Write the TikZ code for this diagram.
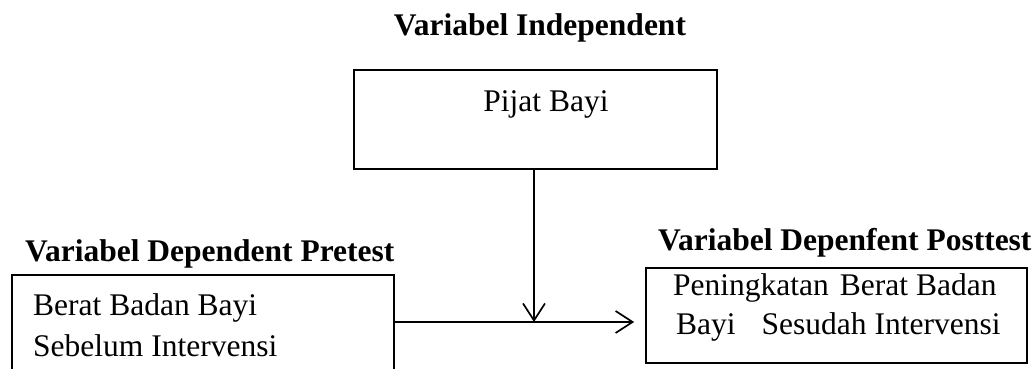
\documentclass[tikz,border=0pt]{standalone}
\usepackage{fontspec}
\setmainfont{Liberation Serif}
\usetikzlibrary{arrows.meta}
\begin{document}
\begin{tikzpicture}[x=1pt,y=1pt,
  box/.style={draw,line width=1.7pt,rectangle,inner sep=0pt},
  lbl/.style={inner sep=0pt,anchor=base west,font=\fontsize{31.5}{36}\selectfont},
  title/.style={inner sep=0pt,anchor=base,font=\fontsize{31.5}{36}\selectfont\bfseries},
  link/.style={line width=1.7pt,-{Straight Barb[length=17pt,width=22pt,line width=1.7pt]}}]
\useasboundingbox (0,0) rectangle (1033,369);

% boxes
\node[box,minimum width=363pt,minimum height=99pt] (ind) at (535.5,249.5) {};
\node[box,minimum width=381pt,minimum height=95pt] (post) at (836.5,53.5) {};
% pretest box runs past the lower edge of the page
\node[box,minimum width=382pt,minimum height=114pt] (pre) at (203,37) {};

% headings
\node[title] (tind) at (540,333) {Variabel Independent};
\node[title,anchor=base west] (tpre) at (25,107) {Variabel Dependent Pretest};
\node[title,anchor=base west] (tpost) at (658,118) {Variabel Depenfent Posttest};

% box texts
\node[inner sep=0pt,anchor=base,font=\fontsize{31.5}{36}\selectfont] (pijat) at (546,257) {Pijat Bayi};
\node[lbl] (pre1) at (33,53) {Berat Badan Bayi};
\node[lbl] (pre2) at (33,12) {Sebelum Intervensi};
\node[lbl] (post1) at (673,73) {Peningkatan\hspace{11pt}Berat Badan};
\node[lbl] (post2) at (676,34) {Bayi\hspace{26pt}Sesudah Intervensi};

% connectors
\coordinate (meet) at (534,47);
\draw[link,shorten >=11pt] (pre.east |- meet) -- (post.west |- meet);
\draw[link] (ind.south -| meet) -- (meet);
\end{tikzpicture}
\end{document}
